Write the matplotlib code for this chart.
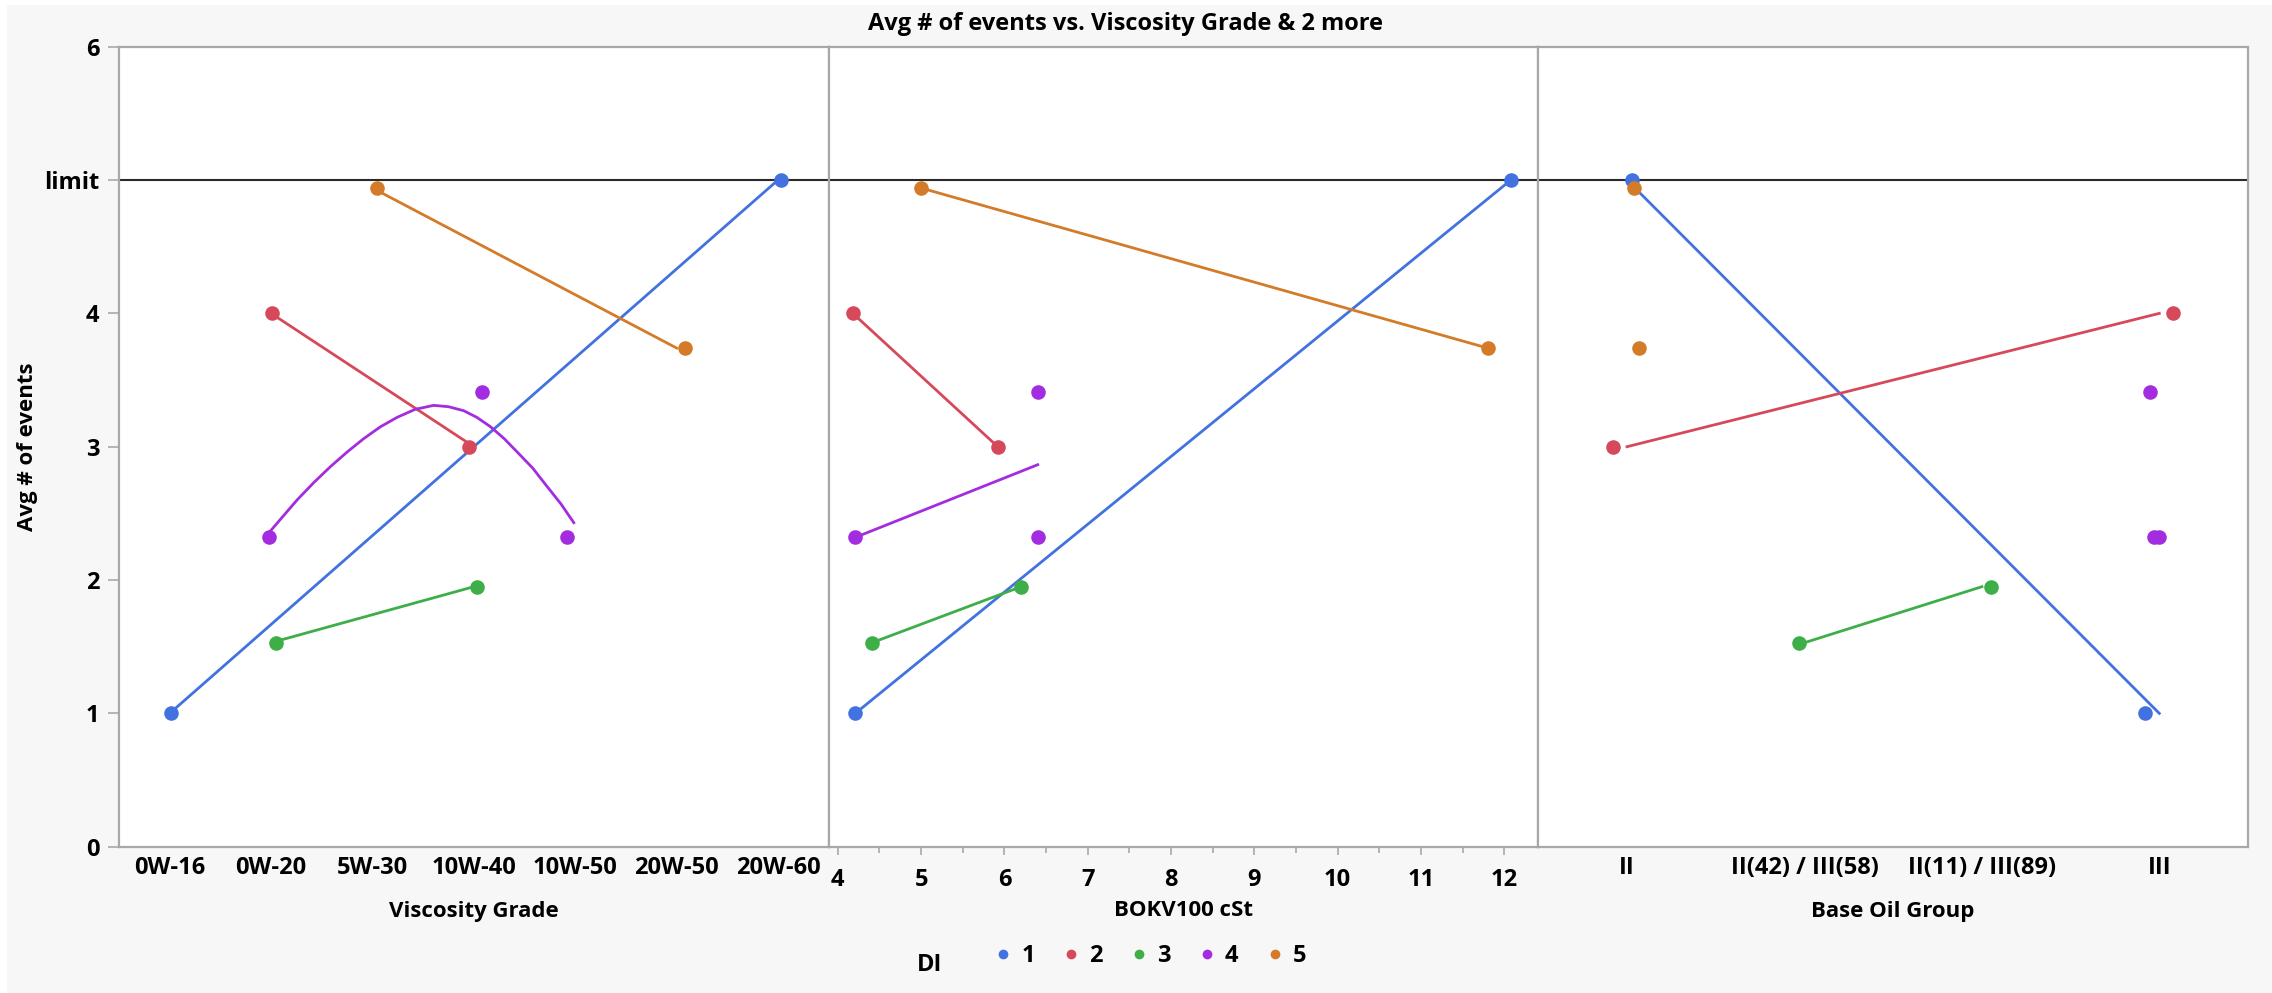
import numpy as np
import matplotlib
matplotlib.use('Agg')
import matplotlib.pyplot as plt
from matplotlib.lines import Line2D
from matplotlib.patches import Rectangle
from matplotlib.ticker import MultipleLocator

plt.rcParams['font.family'] = ['Open Sans', 'DejaVu Sans']
plt.rcParams['font.weight'] = 'bold'

# DI groups
di_levels = ['1', '2', '3', '4', '5']
di_colors = ['#4272E0', '#D6495A', '#3DAE48', '#A42CE0', '#D37B28']

# Panel 1: Viscosity Grade (categorical)
grades = ['0W-16', '0W-20', '5W-30', '10W-40', '10W-50', '20W-50', '20W-60']
vg_x = [['0W-16', '20W-60'],
        ['0W-20', '10W-40'],
        ['0W-20', '10W-40'],
        ['0W-20', '10W-40', '10W-50'],
        ['5W-30', '20W-50']]
vg_y = [[1.0, 5.0],
        [4.0, 3.0],
        [1.53, 1.95],
        [2.32, 3.41, 2.32],
        [4.94, 3.74]]
vg_jit = [[0.01, 0.03],
          [0.01, -0.05],
          [0.05, 0.03],
          [-0.02, 0.08, -0.08],
          [0.04, 0.08]]
# smoother for DI 4 (x in category units)
smooth_x = [0.985, 1.12, 1.256, 1.42, 1.585, 1.75, 1.913, 2.08, 2.243, 2.42, 2.604,
            2.75, 2.90, 3.03, 3.164, 3.30, 3.428, 3.58, 3.724, 3.86, 3.986]
smooth_y = [2.36, 2.48, 2.60, 2.73, 2.85, 2.96, 3.06, 3.15, 3.22, 3.28, 3.31,
            3.30, 3.27, 3.22, 3.15, 3.06, 2.96, 2.84, 2.70, 2.57, 2.43]

# Panel 2: BOKV100 cSt (numeric)
kv_x = [[4.21, 12.08],
        [4.18, 5.92],
        [4.41, 6.20],
        [4.21, 6.40, 6.40],
        [5.00, 11.80]]
kv_y = [[1.0, 5.0],
        [4.0, 3.0],
        [1.53, 1.95],
        [2.32, 3.41, 2.32],
        [4.94, 3.74]]

# Panel 3: Base Oil Group (categorical)
groups = ['II', 'II(42) / III(58)', 'II(11) / III(89)', 'III']
bo_x = [['II', 'III'],
        ['II', 'III'],
        ['II(42) / III(58)', 'II(11) / III(89)'],
        ['III', 'III', 'III'],
        ['II', 'II']]
bo_y = [[5.0, 1.0],
        [3.0, 4.0],
        [1.53, 1.95],
        [3.41, 2.32, 2.32],
        [4.94, 3.74]]
bo_jit = [[0.03, -0.08],
          [-0.08, 0.08],
          [-0.03, 0.05],
          [-0.05, -0.03, 0.0],
          [0.04, 0.07]]

yticks = [0, 1, 2, 3, 4, 5, 6]
ytick_labels = ['0', '1', '2', '3', '4', 'limit', '6']

W, H = 2272, 993
fig = plt.figure(figsize=(W / 100, H / 100), dpi=100)
fig.patch.set_facecolor('white')
fig.patches.append(Rectangle((7 / W, 0), 1, 1 - 5 / H, transform=fig.transFigure,
                             facecolor='#f7f7f7', edgecolor='none', zorder=-10))

left, right = 119 / W, 2248 / W
bottom, top = 1 - 846.7 / H, 1 - 46.7 / H
pw = (right - left) / 3
axes = [fig.add_axes([left + i * pw, bottom, pw, top - bottom]) for i in range(3)]

spine_col = '#a8a8a8'
ms = 10.5
lw = 2.0


def draw_cat(ax, cats, xs, ys, jits, smooth=False):
    for i in range(5):
        idx = np.array([cats.index(c) for c in xs[i]])
        y = np.array(ys[i])
        u = np.unique(idx)
        if smooth and i == 3:
            ax.plot(smooth_x, smooth_y, color=di_colors[i], lw=lw, zorder=2,
                    solid_joinstyle='round')
        elif len(u) > 1:
            means = [y[idx == k].mean() for k in u]
            ax.plot(u, means, color=di_colors[i], lw=lw, zorder=2)
        ax.plot(idx + np.array(jits[i]), y, 'o', color=di_colors[i],
                ms=ms, mec='none', zorder=3)


# panel 1
ax1 = axes[0]
draw_cat(ax1, grades, vg_x, vg_y, vg_jit, smooth=True)
ax1.set_xlim(-0.5, len(grades) - 0.5)
ax1.set_xticks(range(len(grades)))
ax1.set_xticklabels(grades)
ax1.tick_params(axis='x', length=0, pad=7, labelsize=17)

# panel 2
ax2 = axes[1]
for i in range(5):
    x = np.array(kv_x[i])
    y = np.array(kv_y[i])
    k, b = np.polyfit(x, y, 1)
    xl = np.array([x.min(), x.max()])
    ax2.plot(xl, k * xl + b, color=di_colors[i], lw=lw, zorder=2)
    ax2.plot(x, y, 'o', color=di_colors[i], ms=ms, mec='none', zorder=3)
ax2.set_xlim(3.89, 12.41)
ax2.xaxis.set_major_locator(MultipleLocator(1))
ax2.xaxis.set_minor_locator(MultipleLocator(0.5))
ax2.tick_params(axis='x', which='major', length=6, width=1.2, color=spine_col,
                pad=9, labelsize=17)
ax2.tick_params(axis='x', which='minor', length=4, width=1.2, color=spine_col)

# panel 3
ax3 = axes[2]
draw_cat(ax3, groups, bo_x, bo_y, bo_jit)
ax3.set_xlim(-0.5, len(groups) - 0.5)
ax3.set_xticks(range(len(groups)))
ax3.set_xticklabels(groups)
ax3.tick_params(axis='x', length=0, pad=7, labelsize=17)

xlabels = ['Viscosity Grade', 'BOKV100 cSt', 'Base Oil Group']
for ax, lab in zip(axes, xlabels):
    ax.set_ylim(0, 6)
    ax.axhline(5, color='#2a2a2a', lw=1.5, zorder=1)
    for s in ax.spines.values():
        s.set_color(spine_col)
        s.set_linewidth(1.6)
    ax.set_xlabel(lab, fontsize=16, fontweight='bold')
    ax.xaxis.set_label_coords(0.5, (846.7 - 911) / 800)
    ax.xaxis.label.set_va('center')
    ax.set_facecolor('white')

ax1.set_yticks(yticks)
ax1.set_yticklabels(ytick_labels)
ax1.tick_params(axis='y', length=8, width=1.2, color=spine_col, pad=6, labelsize=17)
for ax in axes[1:]:
    ax.set_yticks(yticks)
    ax.tick_params(axis='y', left=False, labelleft=False)

ax1.set_ylabel('Avg # of events', fontsize=16, fontweight='bold', va='center')
ax1.yaxis.set_label_coords((27 - 119) / 709.7, 0.5)

fig.text(1126 / W, 1 - 24 / H, 'Avg # of events vs. Viscosity Grade & 2 more',
         ha='center', va='center', fontsize=17, fontweight='bold')

# legend
handles = [Line2D([], [], marker='o', ls='none', color=c, mec='none', ms=7)
           for c in di_colors]
fig.legend(handles, di_levels, ncol=5, loc='center', bbox_to_anchor=(1150 / W, 1 - 956 / H),
           frameon=False, handlelength=0.8, handletextpad=0.35, columnspacing=1.15,
           fontsize=17)
fig.text(930 / W, 1 - 965 / H, 'DI', ha='center', va='center', fontsize=17, fontweight='bold')

plt.savefig('out.png', dpi=100, facecolor=fig.get_facecolor())
